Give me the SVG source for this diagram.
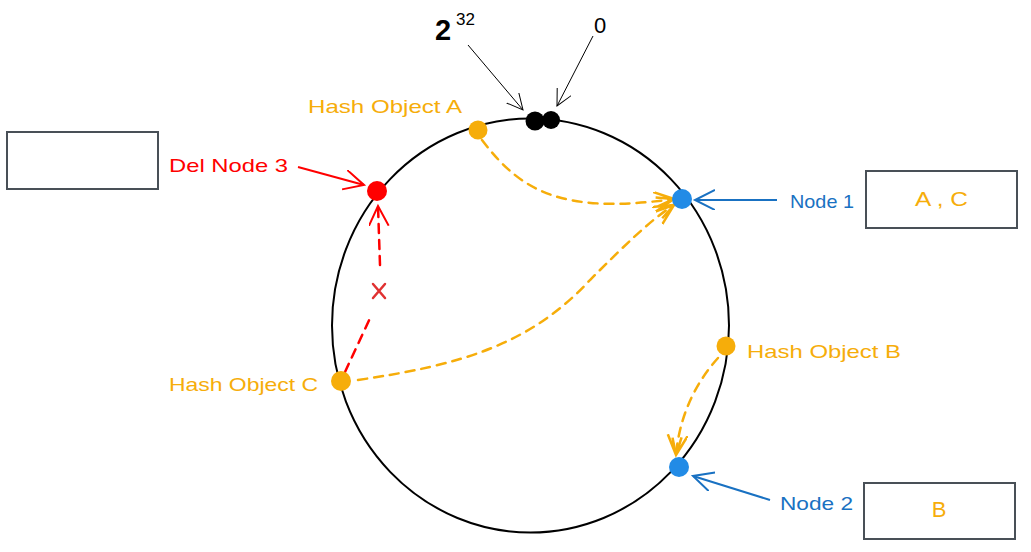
<svg xmlns="http://www.w3.org/2000/svg" width="1031" height="552" viewBox="0 0 1031 552">
<style>
text{font-family:"Liberation Sans","DejaVu Sans",sans-serif}
.org{fill:#f6ad0a}
.blu{fill:#1971c2}
.lbl{font-size:19px}
.box{fill:#fff;stroke:#495057;stroke-width:2}
.dashO{fill:none;stroke:#f6ad0a;stroke-width:2.5;stroke-dasharray:9 7;stroke-linecap:round}
.dashR{fill:none;stroke:#ff0000;stroke-width:2.5;stroke-dasharray:9 7;stroke-linecap:round}
</style>
<defs>
<marker id="aK" markerUnits="userSpaceOnUse" markerWidth="20" markerHeight="20" refX="16" refY="8" orient="auto"><path d="M0,0 L16,8 L0,16" fill="none" stroke="#000" stroke-width="1"/></marker>
<marker id="aR" markerUnits="userSpaceOnUse" markerWidth="24" markerHeight="24" refX="20" refY="10" orient="auto"><path d="M0,0 L20,10 L0,20" fill="none" stroke="#ff0000" stroke-width="2"/></marker>
<marker id="aB" markerUnits="userSpaceOnUse" markerWidth="24" markerHeight="24" refX="20" refY="10" orient="auto"><path d="M0,0 L20,10 L0,20" fill="none" stroke="#1971c2" stroke-width="2"/></marker>
<marker id="aO" markerUnits="userSpaceOnUse" markerWidth="24" markerHeight="24" refX="20" refY="10" orient="auto"><path d="M0,0 L20,10 L0,20 M2,6 L20,10 L3,15" fill="none" stroke="#f6ad0a" stroke-width="2.5"/></marker>
</defs>
<rect width="1031" height="552" fill="#fff"/>
<g id="ring"><ellipse cx="530.5" cy="325.5" rx="198.5" ry="207" fill="none" stroke="#000" stroke-width="2"/></g>
<g id="connectors">
<path d="M468,45 L523,110" fill="none" stroke="#000" stroke-width="1" marker-end="url(#aK)"/>
<path d="M593,36 L557,106" fill="none" stroke="#000" stroke-width="1" marker-end="url(#aK)"/>
<path d="M298,167 L364,185" fill="none" stroke="#ff0000" stroke-width="2" marker-end="url(#aR)"/>
<path d="M777,200 L695,200" fill="none" stroke="#1971c2" stroke-width="2" marker-end="url(#aB)"/>
<path d="M770,500 L693,476" fill="none" stroke="#1971c2" stroke-width="2" marker-end="url(#aB)"/>
<path class="dashO" d="M482,140 C520,190 560,215 674,199" marker-end="url(#aO)"/>
<path class="dashO" d="M358,380 C460,365 530,345 590,280 C620,250 650,220 674,205" marker-end="url(#aO)"/>
<path class="dashO" d="M718,358 C700,378 680,410 676,455" marker-end="url(#aO)"/>
<path class="dashR" d="M345,372 L372,314"/>
<path class="dashR" d="M380,265 L378,206" marker-end="url(#aR)"/>
<path d="M373,284 L385,298 M385,284 L373,298" stroke="#e03131" stroke-width="2.5" fill="none" stroke-linecap="round"/>
</g>
<g id="zero-marker"><circle cx="535" cy="121" r="9.5" fill="#000"/><circle cx="551" cy="120" r="9" fill="#000"/></g>
<g id="hash-a"><circle cx="478" cy="130" r="9.5" fill="#f6ad0a"/><text class="org lbl" x="308" y="113" textLength="154" lengthAdjust="spacingAndGlyphs">Hash Object A</text></g>
<g id="node3"><circle cx="377" cy="191" r="10" fill="#ff0000"/><text class="lbl" fill="#ff0000" x="169" y="172" textLength="119" lengthAdjust="spacingAndGlyphs">Del Node 3</text></g>
<g id="node1"><circle cx="682" cy="199" r="10" fill="#228be6"/><text class="blu lbl" x="790" y="208" textLength="64" lengthAdjust="spacingAndGlyphs">Node 1</text></g>
<g id="hash-b"><circle cx="726" cy="346" r="9.5" fill="#f6ad0a"/><text class="org lbl" x="747" y="358" textLength="154" lengthAdjust="spacingAndGlyphs">Hash Object B</text></g>
<g id="node2"><circle cx="679" cy="467" r="10" fill="#228be6"/><text class="blu lbl" x="780" y="510" textLength="73" lengthAdjust="spacingAndGlyphs">Node 2</text></g>
<g id="hash-c"><circle cx="341" cy="381" r="10" fill="#f6ad0a"/><text class="org lbl" x="169" y="391" textLength="149" lengthAdjust="spacingAndGlyphs">Hash Object C</text></g>
<g id="label-2-32"><text x="435" y="40" font-size="29" font-weight="bold" fill="#000">2</text><text x="456" y="25" font-size="17" fill="#000">32</text></g>
<g id="label-0"><text x="594" y="33" font-size="22" fill="#000">0</text></g>
<g id="box-node3"><rect class="box" x="7" y="132" width="151" height="57"/></g>
<g id="box-node1"><rect class="box" x="866" y="171" width="151" height="57"/><text class="org" font-size="21" x="915" y="206" textLength="53" lengthAdjust="spacingAndGlyphs">A , C</text></g>
<g id="box-node2"><rect class="box" x="864" y="483" width="151" height="56"/><text class="org" font-size="22" x="939" y="517" text-anchor="middle">B</text></g>
</svg>
